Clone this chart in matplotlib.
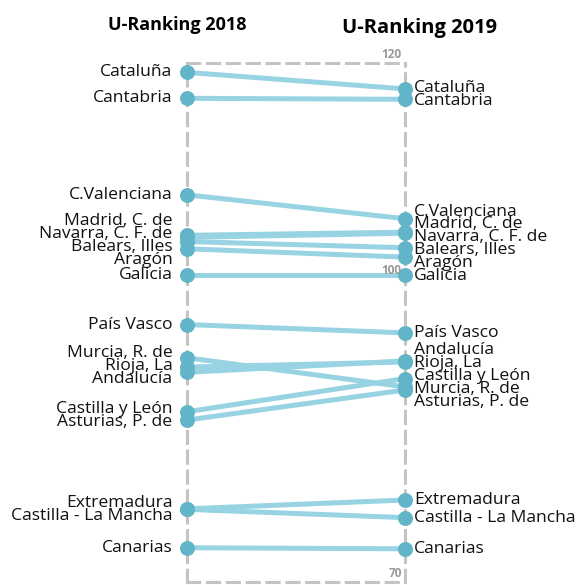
import numpy as np
import matplotlib.pyplot as plt

plt.rcParams['font.family'] = ['Open Sans', 'DejaVu Sans']

regions = ['Cataluña', 'Cantabria', 'C.Valenciana', 'Madrid, C. de', 'Navarra, C. F. de',
           'Balears, Illes', 'Aragón', 'Galicia', 'País Vasco', 'Murcia, R. de',
           'Rioja, La', 'Andalucía', 'Castilla y León', 'Asturias, P. de',
           'Extremadura', 'Castilla - La Mancha', 'Canarias']
ranking_2018 = [119.1, 116.6, 107.3, 103.4, 103.2, 102.8, 102.1, 99.6, 94.8, 91.6,
                90.7, 90.2, 86.4, 85.6, 77.05, 77.0, 73.3]
ranking_2019 = [117.5, 116.5, 105.0, 103.7, 103.6, 102.2, 101.3, 99.6, 94.0, 88.8,
                91.2, 91.3, 89.6, 88.5, 77.9, 76.2, 73.2]
years = ['U-Ranking 2018', 'U-Ranking 2019']
y_ticks = [70, 100, 120]

line_col = '#97d3e2'
dot_col = '#62b4c9'


def spread(values, gap, iters=300):
    # push label positions apart so they keep a minimum distance
    pos = np.array(values, dtype=float)
    order = np.argsort(-pos, kind='stable')
    for _ in range(iters):
        for a, b in zip(order[:-1], order[1:]):
            d = pos[a] - pos[b]
            if d < gap:
                s = (gap - d) / 2
                pos[a] += s
                pos[b] -= s
    return pos


fig = plt.figure(figsize=(5.8, 5.85), dpi=100)
ax = fig.add_axes([187 / 580, 3 / 585, 218 / 580, 519 / 585])
ax.set_xlim(0, 1)
ax.set_ylim(70, 120)
ax.set_xticks([])
ax.set_yticks([])
for sp in ax.spines.values():
    sp.set_linestyle((0, (4, 2.5)))
    sp.set_color('#c4c4c4')
    sp.set_linewidth(2.2)

for name, a, b in zip(regions, ranking_2018, ranking_2019):
    ax.plot([0, 1], [a, b], color=line_col, lw=3.6, solid_capstyle='butt',
            clip_on=False, zorder=2)
ax.scatter(np.zeros(len(regions)), ranking_2018, s=95, color=dot_col, zorder=3, clip_on=False)
ax.scatter(np.ones(len(regions)), ranking_2019, s=95, color=dot_col, zorder=3, clip_on=False)

gap = 1.25
left_y = spread(ranking_2018, gap)
right_y = spread(ranking_2019, gap)
for name, ly, ry in zip(regions, left_y, right_y):
    ax.annotate(name, xy=(0, ly), xytext=(-10.5, 0), textcoords='offset points',
                ha='right', va='center', fontsize=12.6, fontweight='medium',
                color='#111111', annotation_clip=False)
    ax.annotate(name, xy=(1, ry), xytext=(6.5, 0), textcoords='offset points',
                ha='left', va='center', fontsize=12.6, fontweight='medium',
                color='#111111', annotation_clip=False)

for v in y_ticks:
    va = 'bottom' if v in ax.get_ylim() else 'center'
    ax.annotate(str(v), xy=(1, v), xytext=(-2.5, 1.5 if va == 'bottom' else 0),
                textcoords='offset points', ha='right', va=va, fontsize=8.5,
                fontweight='bold', color='#999999', annotation_clip=False)

fig.text(177 / 580, 1 - 25 / 585, years[0], ha='center', va='center',
         fontsize=13, fontweight='bold')
fig.text(420 / 580, 1 - 28 / 585, years[1], ha='center', va='center',
         fontsize=14.5, fontweight='bold')

fig.savefig('out.png', dpi=100)
